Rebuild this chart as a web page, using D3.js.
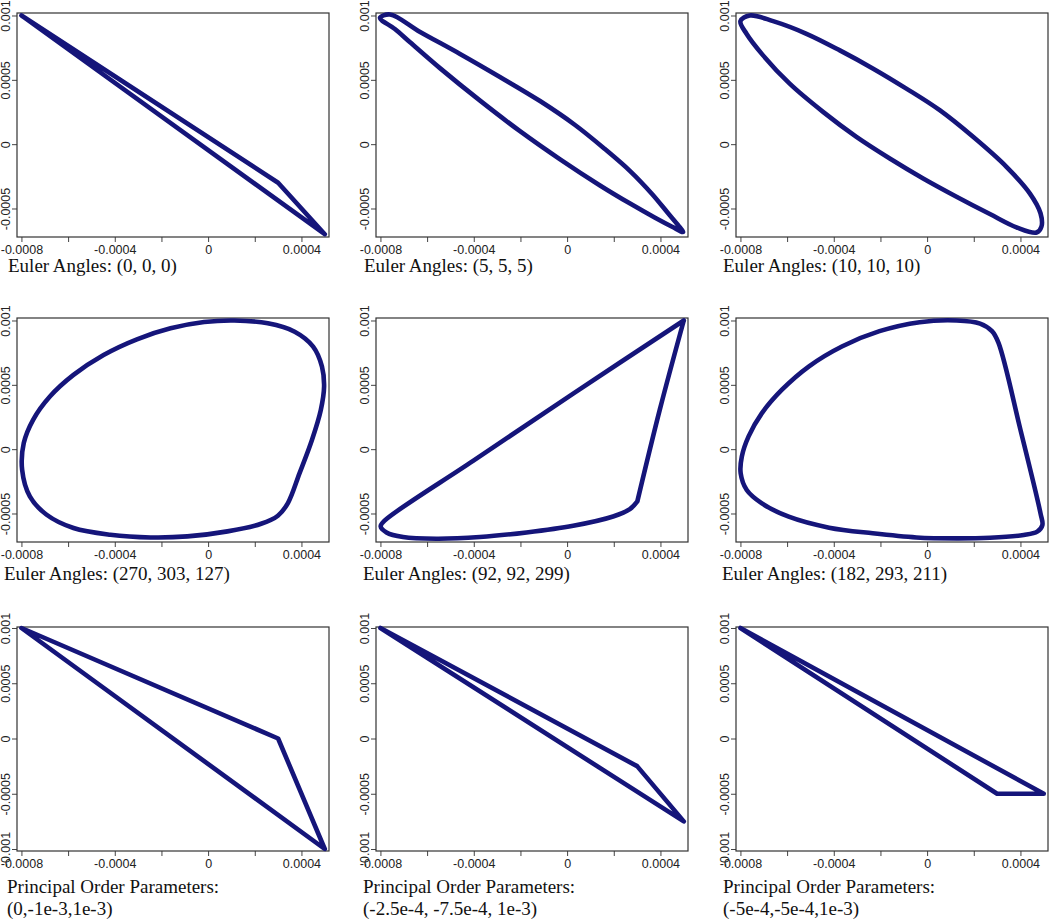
<!DOCTYPE html>
<html><head><meta charset="utf-8">
<script src="https://cdn.jsdelivr.net/npm/d3@7"></script>
<style>
body{margin:0;background:#fff;}
svg{display:block;}
</style></head><body>
<svg id="chart" width="1050" height="921"></svg>
<script>
// ---------- tick values / labels ----------
const xTickValues = [-0.0008, -0.0006, -0.0004, -0.0002, 0, 0.0002, 0.0004];
const xTickLabels = ["-0.0008", "", "-0.0004", "", "0", "", "0.0004"];
const yTickValuesA = [0.001, 0.0005, 0, -0.0005];
const yTickLabelsA = ["0.001", "0.0005", "0", "-0.0005"];
const yTickValuesB = [0.001, 0.0005, 0, -0.0005, -0.001];
const yTickLabelsB = ["0.001", "0.0005", "0", "-0.0005", "-0.001"];

// ---------- captions ----------
const captions = [
  ["Euler Angles: (0, 0, 0)"],
  ["Euler Angles: (5, 5, 5)"],
  ["Euler Angles: (10, 10, 10)"],
  ["Euler Angles: (270, 303, 127)"],
  ["Euler Angles: (92, 92, 299)"],
  ["Euler Angles: (182, 293, 211)"],
  ["Principal Order Parameters:", "(0,-1e-3,1e-3)"],
  ["Principal Order Parameters:", "(-2.5e-4, -7.5e-4, 1e-3)"],
  ["Principal Order Parameters:", "(-5e-4,-5e-4,1e-3)"]
];

// ---------- series (x, y) ----------
const e000X = [-0.0008, 0.0003, 0.0005];
const e000Y = [0.001, -0.0003, -0.0007];

const e555X = [-0.000802, -0.000759, -0.00063, -0.000459, -0.000288, -0.000116, 0.000034, 0.000162, 0.00027, 0.000364, 0.000432, 0.000475, 0.000497,
  0.00045, 0.000377, 0.00027, 0.000141, -0.00003, -0.000202, -0.000373, -0.000545, -0.000673, -0.000738];
const e555Y = [0.000981, 0.001008, 0.000872, 0.000701, 0.000522, 0.000335, 0.000149, -0.000038, -0.000209, -0.000387, -0.000535, -0.000628, -0.000683,
  -0.000642, -0.000572, -0.000462, -0.000321, -0.000118, 0.000101, 0.000338, 0.000591, 0.000792, 0.000895];

const e101010X = [-0.00076, -0.00066, -0.000517, -0.000374, -0.000231, -0.000089, 0.000054, 0.000197, 0.00034, 0.00044, 0.000486, 0.00049,
  0.000469, 0.000383, 0.000269, 0.000126, -0.000017, -0.00016, -0.000303, -0.000446, -0.000589, -0.000703, -0.000774, -0.0008];
const e101010Y = [0.001, 0.000956, 0.000858, 0.000729, 0.000587, 0.000432, 0.000264, 0.000057, -0.000176, -0.000382, -0.000537, -0.000641,
  -0.000687, -0.000646, -0.000543, -0.000408, -0.000266, -0.000111, 0.000057, 0.000251, 0.00047, 0.00069, 0.000858, 0.000956];

const e270X = [0.000112, 0.000256, 0.000371, 0.00045, 0.000488, 0.000497, 0.000483, 0.000445, 0.000392, 0.000342, 0.000299, 0.000227, 0.000083,
  -0.000089, -0.000247, -0.000419, -0.000577, -0.000692, -0.000764, -0.000797, -0.00079, -0.00075, -0.000678, -0.000577, -0.000448, -0.000305, -0.000161, -0.000017];
const e270Y = [0.001, 0.000978, 0.000913, 0.000797, 0.000642, 0.000486, 0.000305, 0.000072, -0.000186, -0.000419, -0.000517, -0.00058, -0.000639,
  -0.000678, -0.000686, -0.000665, -0.000613, -0.00051, -0.000367, -0.00016, 0.000047, 0.000228, 0.000409, 0.000577, 0.000732, 0.000854, 0.000939, 0.000988];

const e92X = [0.0005, 0.000397, 0.000301, 0.000269, 0.000197, 0.000026, -0.000174, -0.000374, -0.00056, -0.000703, -0.000774, -0.000799, -0.000781, -0.000403, 0.000026];
const e92Y = [0.001, 0.000305, -0.000406, -0.000466, -0.000523, -0.000595, -0.000647, -0.000683, -0.000696, -0.000683, -0.000647, -0.0006, -0.000554, -0.000091, 0.000432];

const e182X = [0.000127, 0.000227, 0.000278, 0.000306, 0.0004, 0.000486, 0.000494, 0.000472, 0.000414, 0.00027, 0.000127, -0.000046, -0.000233,
  -0.00042, -0.000593, -0.000708, -0.000773, -0.000799, -0.000794, -0.000765, -0.000708, -0.000622, -0.000506, -0.000363, -0.000204, -0.000032];
const e182Y = [0.001, 0.000976, 0.000917, 0.000826, 0.000151, -0.000499, -0.00059, -0.000641, -0.000667, -0.000688, -0.000693, -0.000686, -0.000654,
  -0.00061, -0.000525, -0.000421, -0.000317, -0.000187, -0.000057, 0.000099, 0.00028, 0.000462, 0.000644, 0.0008, 0.000917, 0.000987];

const pop1X = [-0.0008, 0.0003, 0.0005];
const pop1Y = [0.001, 0, -0.001];
const pop2X = [-0.0008, 0.0003, 0.0005];
const pop2Y = [0.001, -0.00025, -0.00075];
const pop3X = [-0.0008, 0.0003, 0.0005];
const pop3Y = [0.001, -0.0005, -0.0005];

// indices of sharp corners (for smooth curves)
const e92Corners = [0, 2];

// ---------- layout ----------
const colLeft = [17, 376, 736];
const rowTop = [13, 318, 627];
const panelW = 312, panelH = 224;
const xDomain = [-0.000819, 0.0005181];
const yDomainA = [-0.0007215, 0.0010194];
const yDomainB = [-0.001018, 0.001009];
const captionX = [[8, 364, 723], [4, 363, 722], [7, 363, 723]];
const captionBase = [272, 580, 893];
const lineColor = "#15157a";

const panels = [
  {x: e000X, y: e000Y, smooth: false},
  {x: e555X, y: e555Y, smooth: true},
  {x: e101010X, y: e101010Y, smooth: true},
  {x: e270X, y: e270Y, smooth: true},
  {x: e92X, y: e92Y, smooth: true, corners: e92Corners},
  {x: e182X, y: e182Y, smooth: true},
  {x: pop1X, y: pop1Y, smooth: false},
  {x: pop2X, y: pop2Y, smooth: false},
  {x: pop3X, y: pop3Y, smooth: false}
];

const svg = d3.select("#chart");

panels.forEach((p, i) => {
  const r = Math.floor(i / 3), c = i % 3;
  const left = colLeft[c], top = rowTop[r];
  const xs = d3.scaleLinear().domain(xDomain).range([left, left + panelW]);
  const ys = d3.scaleLinear().domain(r < 2 ? yDomainA : yDomainB).range([top + panelH, top]);
  const yTV = r < 2 ? yTickValuesA : yTickValuesB;
  const yTL = r < 2 ? yTickLabelsA : yTickLabelsB;
  const g = svg.append("g");

  // x axis
  const xAxis = d3.axisBottom(xs).tickValues(xTickValues)
    .tickFormat((d, k) => xTickLabels[k]).tickSizeOuter(0).tickSize(5).tickPadding(3);
  const gx = g.append("g").attr("transform", `translate(0,${top + panelH})`).call(xAxis);
  gx.select(".domain").remove();
  gx.selectAll("line").attr("stroke", "#444");
  gx.selectAll("text").attr("font-family", "'Liberation Sans', Arial, sans-serif")
    .attr("font-size", 12.5).attr("fill", "#222");

  // y axis
  const yAxis = d3.axisLeft(ys).tickValues(yTV).tickFormat((d, k) => yTL[k])
    .tickSizeOuter(0).tickSize(5);
  const gy = g.append("g").attr("transform", `translate(${left},0)`).call(yAxis);
  gy.select(".domain").remove();
  gy.selectAll("line").attr("stroke", "#444");
  gy.selectAll("text")
    .attr("x", null).attr("dy", null)
    .attr("text-anchor", "middle")
    .attr("transform", "translate(-7.5,0) rotate(-90)")
    .attr("font-family", "'Liberation Sans', Arial, sans-serif")
    .attr("font-size", 12.5).attr("fill", "#222");

  // frame
  g.append("rect").attr("x", left).attr("y", top).attr("width", panelW).attr("height", panelH)
    .attr("fill", "none").attr("stroke", "#333").attr("stroke-width", 1.2);

  // curve
  const pts = p.x.map((v, k) => [v, p.y[k]]);
  let d;
  if (!p.smooth) {
    d = d3.line().x(q => xs(q[0])).y(q => ys(q[1])).curve(d3.curveLinearClosed)(pts);
  } else if (!p.corners) {
    d = d3.line().x(q => xs(q[0])).y(q => ys(q[1])).curve(d3.curveCatmullRomClosed.alpha(0.5))(pts);
  } else {
    const gen = d3.line().x(q => xs(q[0])).y(q => ys(q[1])).curve(d3.curveCatmullRom.alpha(0.5));
    const cs = p.corners, n = pts.length;
    d = "";
    cs.forEach((ci, k) => {
      const cj = cs[(k + 1) % cs.length];
      const run = [];
      let idx = ci;
      run.push(pts[idx]);
      do { idx = (idx + 1) % n; run.push(pts[idx]); } while (idx !== cj);
      d += gen(run);
    });
  }
  g.append("path").attr("d", d)
    .attr("fill", "none").attr("stroke", lineColor).attr("stroke-width", 4.6)
    .attr("stroke-linejoin", "round").attr("stroke-linecap", "round");

  // caption
  const cap = g.append("text").attr("x", captionX[r][c]).attr("y", captionBase[r])
    .attr("font-family", "'Liberation Serif', 'Times New Roman', serif")
    .attr("font-size", 19).attr("fill", "#111");
  captions[i].forEach((t, k) => {
    cap.append("tspan").attr("x", captionX[r][c]).attr("dy", k === 0 ? 0 : 22).text(t);
  });
});
</script>
</body></html>
